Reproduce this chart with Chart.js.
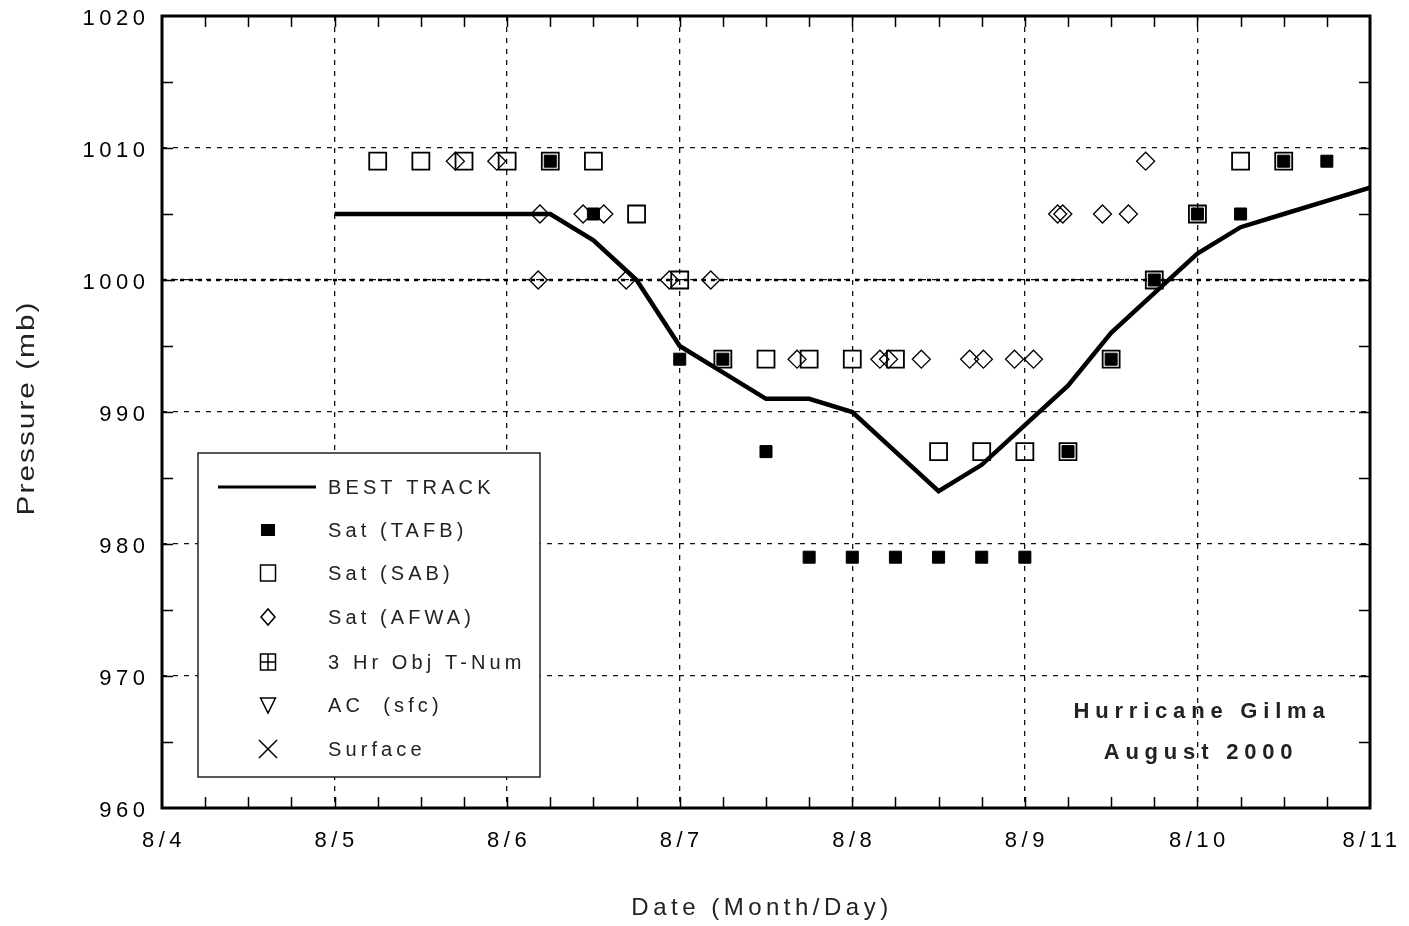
<!DOCTYPE html>
<html>
<head>
<meta charset="utf-8">
<script src="https://cdn.jsdelivr.net/npm/chart.js@4.4.0/dist/chart.umd.min.js"></script>
<style>
  html, body { margin: 0; padding: 0; background: #fff; }
  #wrap { width: 1409px; height: 926px; }
</style>
</head>
<body>
<div id="wrap">
  <canvas id="gilmaChart" width="1409" height="926" aria-label="Hurricane Gilma pressure" role="img"></canvas>
</div>
<script>
// x values are days of August 2000 (8/5 = 5.0, 8/5 06Z = 5.25 ...)
const dayTicks = [4, 5, 6, 7, 8, 9, 10, 11];
const dayLabels = ['8/4', '8/5', '8/6', '8/7', '8/8', '8/9', '8/10', '8/11'];
const pressureTicks = [960, 970, 980, 990, 1000, 1010, 1020];
const pressureLabels = ['960', '970', '980', '990', '1000', '1010', '1020'];

const bestTrackTime = [5.0, 5.25, 5.5, 5.75, 6.0, 6.25, 6.5, 6.75, 7.0, 7.25, 7.5, 7.75, 8.0,
                       8.25, 8.5, 8.75, 9.0, 9.25, 9.5, 9.75, 10.0, 10.25, 10.5, 10.75, 11.0];
const bestTrackPres = [1005, 1005, 1005, 1005, 1005, 1005, 1003, 1000, 995, 993, 991, 991, 990,
                       987, 984, 986, 989, 992, 996, 999, 1002, 1004, 1005, 1006, 1007];

const tafbTime = [6.25, 6.5, 7.0, 7.25, 7.5, 7.75, 8.0, 8.25, 8.5, 8.75, 9.0, 9.25, 9.5, 9.75, 10.0, 10.25, 10.5, 10.75];
const tafbPres = [1009, 1005, 994, 994, 987, 979, 979, 979, 979, 979, 979, 987, 994, 1000, 1005, 1005, 1009, 1009];

const sabTime = [5.25, 5.5, 5.75, 6.0, 6.25, 6.5, 6.75, 7.0, 7.25, 7.5, 7.75, 8.0, 8.25,
                 8.5, 8.75, 9.0, 9.25, 9.5, 9.75, 10.0, 10.25, 10.5];
const sabPres = [1009, 1009, 1009, 1009, 1009, 1009, 1005, 1000, 994, 994, 994, 994, 994,
                 987, 987, 987, 987, 994, 1000, 1005, 1009, 1009];

const afwaTime = [5.7, 5.94, 6.18, 6.19, 6.44, 6.56, 6.69, 6.94, 7.18, 7.68, 8.16, 8.21, 8.4,
                  8.68, 8.76, 8.94, 9.05, 9.19, 9.22, 9.45, 9.6, 9.7];
const afwaPres = [1009, 1009, 1000, 1005, 1005, 1005, 1000, 1000, 1000, 994, 994, 994, 994,
                  994, 994, 994, 994, 1005, 1005, 1005, 1005, 1009];

// series in the legend with no fixes on this storm
const objTime = [], objPres = [];
const acTime = [], acPres = [];
const sfcTime = [], sfcPres = [];

const legendLabels = ['BEST TRACK', 'Sat (TAFB)', 'Sat (SAB)', 'Sat (AFWA)', '3 Hr Obj T-Num', 'AC  (sfc)', 'Surface'];
const titleLines = ['Hurricane Gilma', 'August 2000'];
const xTitle = 'Date (Month/Day)';
const yTitle = 'Pressure (mb)';

function toPoints(xs, ys) {
    return xs.map((x, i) => ({ x: x, y: ys[i] }));
}

const FONT = '"Liberation Sans", Arial, sans-serif';

const extras = {
    id: 'extras',
    beforeLayout: function (chart) { chart.ctx.letterSpacing = '4.5px'; },
    beforeDraw: function (chart) { chart.ctx.letterSpacing = '4.5px'; },
    beforeDatasetsDraw: function (chart) {
        const ctx = chart.ctx;
        const a = chart.chartArea;
        const y = chart.scales.y;
        ctx.save();
        // heavier dotted line at 1000 mb
        ctx.strokeStyle = '#000';
        ctx.lineWidth = 2.5;
        ctx.setLineDash([4, 5]);
        ctx.beginPath();
        ctx.moveTo(a.left, y.getPixelForValue(1000));
        ctx.lineTo(a.right, y.getPixelForValue(1000));
        ctx.stroke();
        ctx.restore();
    },
    afterDraw: function (chart) {
        const ctx = chart.ctx;
        const a = chart.chartArea;
        const xs = chart.scales.x;
        const ys = chart.scales.y;
        ctx.save();
        ctx.letterSpacing = '0px';
        ctx.setLineDash([]);
        ctx.strokeStyle = '#000';

        // inward ticks: every 5 mb, every 6 hours
        ctx.lineWidth = 1.5;
        ctx.beginPath();
        for (let p = 965; p < 1020; p += 5) {
            const py = Math.round(ys.getPixelForValue(p)) + 0.5;
            ctx.moveTo(a.left, py); ctx.lineTo(a.left + 11, py);
            ctx.moveTo(a.right, py); ctx.lineTo(a.right - 11, py);
        }
        for (let d = 4.25; d < 11; d += 0.25) {
            const px = Math.round(xs.getPixelForValue(d)) + 0.5;
            ctx.moveTo(px, a.bottom); ctx.lineTo(px, a.bottom - 11);
            ctx.moveTo(px, a.top); ctx.lineTo(px, a.top + 11);
        }
        ctx.stroke();

        // frame
        ctx.lineWidth = 3;
        ctx.strokeRect(a.left, a.top, a.right - a.left, a.bottom - a.top);

        // axis titles
        ctx.fillStyle = '#222';
        ctx.font = '24px ' + FONT;
        ctx.letterSpacing = '4.5px';
        ctx.textAlign = 'center';
        ctx.textBaseline = 'middle';
        ctx.fillText(xTitle, 762, 908);
        ctx.save();
        ctx.translate(28, 408);
        ctx.rotate(-Math.PI / 2);
        ctx.scale(1.3, 1);
        ctx.font = '23px ' + FONT;
        ctx.letterSpacing = '1.5px';
        ctx.fillText(yTitle, 0, 0);
        ctx.restore();

        // legend box
        const bx = 198, by = 453, bw = 342, bh = 324;
        ctx.fillStyle = '#fff';
        ctx.fillRect(bx, by, bw, bh);
        ctx.lineWidth = 1.5;
        ctx.strokeStyle = '#222';
        ctx.strokeRect(bx, by, bw, bh);

        const rowY = [487, 530, 573, 617, 662, 705, 749];
        const sx = 268;
        ctx.strokeStyle = '#000';
        ctx.fillStyle = '#000';
        // best track line
        ctx.lineWidth = 3;
        ctx.beginPath(); ctx.moveTo(218, rowY[0]); ctx.lineTo(316, rowY[0]); ctx.stroke();
        // filled square
        ctx.fillRect(sx - 7, rowY[1] - 6, 14, 12);
        // open square
        ctx.lineWidth = 1.5;
        ctx.strokeRect(sx - 7.5, rowY[2] - 8, 15, 16);
        // diamond
        ctx.beginPath();
        ctx.moveTo(sx - 7, rowY[3]); ctx.lineTo(sx, rowY[3] - 8);
        ctx.lineTo(sx + 7, rowY[3]); ctx.lineTo(sx, rowY[3] + 8);
        ctx.closePath(); ctx.stroke();
        // square with cross
        ctx.strokeRect(sx - 7.5, rowY[4] - 8, 15, 16);
        ctx.beginPath();
        ctx.moveTo(sx, rowY[4] - 8); ctx.lineTo(sx, rowY[4] + 8);
        ctx.moveTo(sx - 7.5, rowY[4]); ctx.lineTo(sx + 7.5, rowY[4]);
        ctx.stroke();
        // triangle down
        ctx.beginPath();
        ctx.moveTo(sx - 7.5, rowY[5] - 7); ctx.lineTo(sx + 7.5, rowY[5] - 7);
        ctx.lineTo(sx, rowY[5] + 8); ctx.closePath(); ctx.stroke();
        // X
        ctx.beginPath();
        ctx.moveTo(sx - 9, rowY[6] - 9); ctx.lineTo(sx + 9, rowY[6] + 9);
        ctx.moveTo(sx + 9, rowY[6] - 9); ctx.lineTo(sx - 9, rowY[6] + 9);
        ctx.stroke();

        ctx.font = '20px ' + FONT;
        ctx.letterSpacing = '4.1px';
        ctx.fillStyle = '#222';
        ctx.textBaseline = 'middle';
        ctx.textAlign = 'left';
        legendLabels.forEach((t, i) => ctx.fillText(t, 328, rowY[i] + 1));

        // storm title
        ctx.font = 'bold 22px ' + FONT;
        ctx.letterSpacing = '5.8px';
        ctx.textAlign = 'center';
        ctx.fillStyle = '#222';
        ctx.fillText(titleLines[0], 1202, 712);
        ctx.fillText(titleLines[1], 1201, 753);
        ctx.restore();
    }
};

new Chart(document.getElementById('gilmaChart').getContext('2d'), {
    type: 'scatter',
    data: {
        datasets: [
            {
                label: 'Sat (TAFB)',
                data: toPoints(tafbTime, tafbPres),
                pointStyle: 'rect',
                pointRadius: 8.5,
                backgroundColor: '#000',
                borderColor: '#000',
                borderWidth: 1,
            },
            {
                label: 'Sat (AFWA)',
                data: toPoints(afwaTime, afwaPres),
                pointStyle: 'rectRot',
                pointRadius: 9,
                backgroundColor: 'rgba(0,0,0,0)',
                borderColor: '#000',
                borderWidth: 1.3,
            },
            {
                label: 'Sat (SAB)',
                data: toPoints(sabTime, sabPres),
                pointStyle: 'rect',
                pointRadius: 12,
                backgroundColor: 'rgba(0,0,0,0)',
                borderColor: '#000',
                borderWidth: 1.8,
            },
            { label: '3 Hr Obj T-Num', data: toPoints(objTime, objPres), pointStyle: 'rect' },
            { label: 'AC (sfc)', data: toPoints(acTime, acPres), pointStyle: 'triangle' },
            { label: 'Surface', data: toPoints(sfcTime, sfcPres), pointStyle: 'crossRot' },
            {
                label: 'BEST TRACK',
                data: toPoints(bestTrackTime, bestTrackPres),
                showLine: true,
                pointRadius: 0,
                borderColor: '#000',
                borderWidth: 4.5,
                tension: 0,
            },
        ],
    },
    options: {
        responsive: false,
        animation: false,
        events: [],
        layout: { padding: { left: 0, top: 16, right: 39, bottom: 0 } },
        plugins: {
            legend: { display: false },
            tooltip: { enabled: false },
        },
        scales: {
            x: {
                type: 'linear',
                min: 4,
                max: 11,
                afterBuildTicks: function (scale) {
                    scale.ticks = dayTicks.map(v => ({ value: v }));
                },
                afterFit: function (scale) {
                    scale.height = 118;
                    scale.paddingLeft = 0;
                    scale.paddingRight = 0;
                },
                ticks: {
                    callback: function (value) { return dayLabels[dayTicks.indexOf(value)]; },
                    color: '#000',
                    font: { family: FONT, size: 22 },
                    padding: 20,
                    labelOffset: 2,
                    maxRotation: 0,
                    autoSkip: false,
                },
                grid: { color: '#111', lineWidth: 1.3, drawTicks: false },
                border: { display: false, dash: [5, 6] },
            },
            y: {
                min: 960,
                max: 1020,
                afterBuildTicks: function (scale) {
                    scale.ticks = pressureTicks.map(v => ({ value: v }));
                },
                afterFit: function (scale) {
                    scale.width = 162;
                    scale.paddingTop = 0;
                    scale.paddingBottom = 0;
                },
                ticks: {
                    callback: function (value) { return pressureLabels[pressureTicks.indexOf(value)]; },
                    color: '#000',
                    font: { family: FONT, size: 22 },
                    padding: 12.5,
                    labelOffset: 3,
                },
                grid: { color: '#111', lineWidth: 1.3, drawTicks: false },
                border: { display: false, dash: [5, 6] },
            },
        },
    },
    plugins: [extras],
});
</script>
</body>
</html>
